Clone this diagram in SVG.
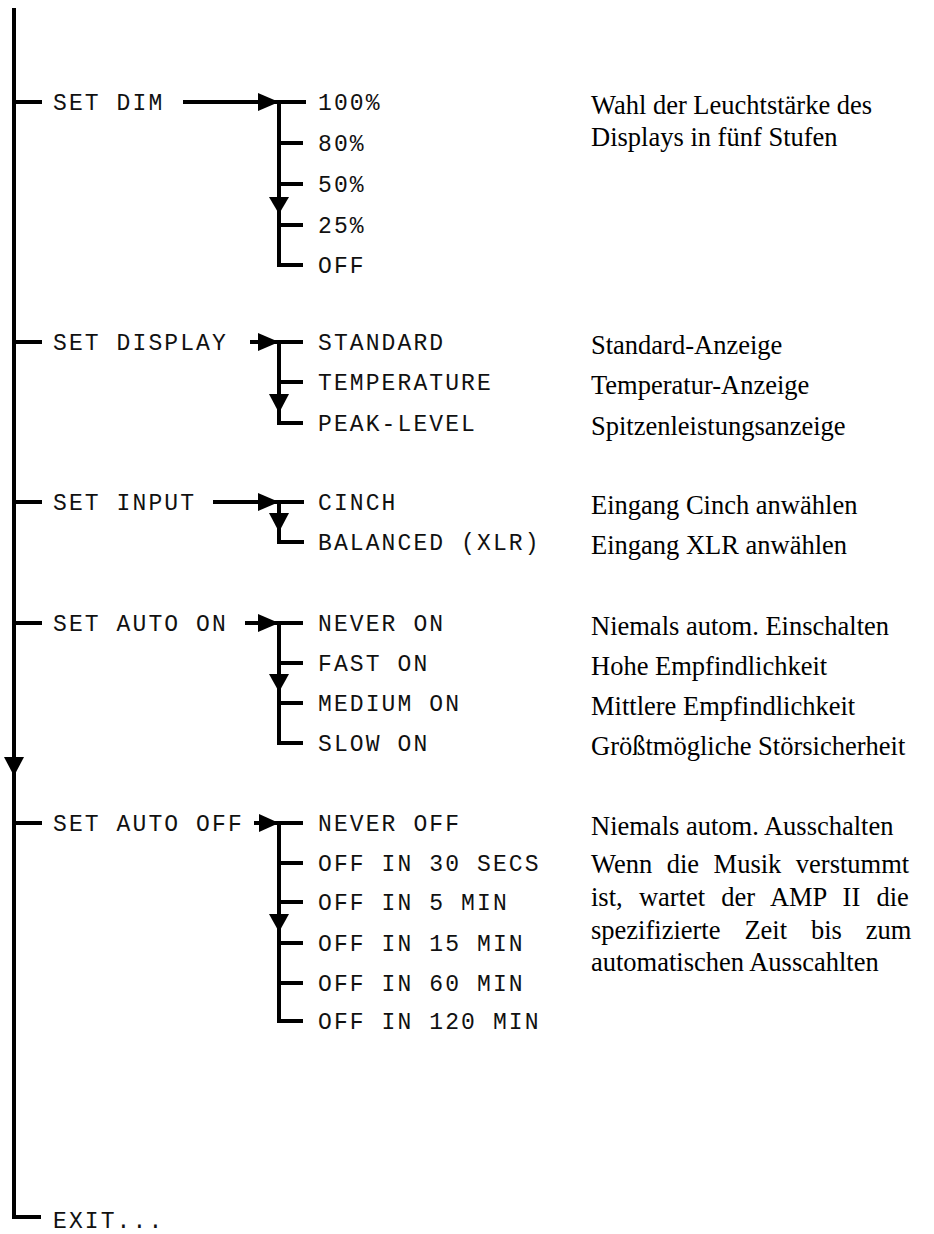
<svg xmlns="http://www.w3.org/2000/svg" width="934" height="1234" viewBox="0 0 934 1234">
<style>
.ln{fill:none;stroke:#000;stroke-width:4;stroke-linejoin:miter;stroke-linecap:butt}
.ah{fill:#000;stroke:none}
.m{font-family:"Liberation Mono","Courier New",monospace;font-size:23px;letter-spacing:2.1px;fill:#111}
.s{font-family:"Liberation Serif","Times New Roman",serif;font-size:26.5px;fill:#000}
</style>
<rect width="934" height="1234" fill="#fff"/>
<g id="connectors">
  <path class="ln" d="M14 8 V1217 H41"/>
  <polygon class="ah" points="4,757 24,757 14,776"/>
  <path class="ln" d="M14 102 H42 M14 342 H42 M14 502 H42 M14 623 H42 M14 823 H42"/>
  <path class="ln" d="M183 102 H306"/>
  <polygon class="ah" points="258,93 279,102 258,111"/>
  <path class="ln" d="M279 102 V265 H303 M279 143 H303 M279 184 H303 M279 225 H303"/>
  <polygon class="ah" points="269,197 289,197 279,214"/>
  <path class="ln" d="M250 342 H303"/>
  <polygon class="ah" points="258,333 279,342 258,351"/>
  <path class="ln" d="M279 342 V423 H303 M279 382 H303"/>
  <polygon class="ah" points="269,394 289,394 279,413"/>
  <path class="ln" d="M213 502 H304"/>
  <polygon class="ah" points="258,493 279,502 258,511"/>
  <path class="ln" d="M279 502 V542 H304"/>
  <polygon class="ah" points="269,513 289,513 279,532"/>
  <path class="ln" d="M245 623 H303"/>
  <polygon class="ah" points="258,614 279,623 258,632"/>
  <path class="ln" d="M279 623 V743 H303 M279 663 H303 M279 703 H303"/>
  <polygon class="ah" points="269,674 289,674 279,692"/>
  <path class="ln" d="M254 823 H303"/>
  <polygon class="ah" points="259,814 279,823 259,832"/>
  <path class="ln" d="M279 823 V1021 H303 M279 863 H303 M279 902 H303 M279 943 H303 M279 983 H303"/>
  <polygon class="ah" points="269,914 289,914 279,932"/>
</g>
<g id="set-dim">
  <text class="m" x="53" y="110">SET DIM</text>
  <text class="m" x="318" y="110">100%</text>
  <text class="m" x="318" y="151">80%</text>
  <text class="m" x="318" y="192">50%</text>
  <text class="m" x="318" y="233">25%</text>
  <text class="m" x="318" y="273">OFF</text>
  <text class="s" x="591" y="113.5">Wahl der Leuchtstärke des</text>
  <text class="s" x="591" y="146">Displays in fünf Stufen</text>
</g>
<g id="set-display">
  <text class="m" x="53" y="350">SET DISPLAY</text>
  <text class="m" x="318" y="350">STANDARD</text>
  <text class="m" x="318" y="390">TEMPERATURE</text>
  <text class="m" x="318" y="431">PEAK-LEVEL</text>
  <text class="s" x="591" y="353.5">Standard-Anzeige</text>
  <text class="s" x="591" y="393.5">Temperatur-Anzeige</text>
  <text class="s" x="591" y="434.5">Spitzenleistungsanzeige</text>
</g>
<g id="set-input">
  <text class="m" x="53" y="510">SET INPUT</text>
  <text class="m" x="318" y="510">CINCH</text>
  <text class="m" x="318" y="550">BALANCED (XLR)</text>
  <text class="s" x="591" y="513.5">Eingang Cinch anwählen</text>
  <text class="s" x="591" y="553.5">Eingang XLR anwählen</text>
</g>
<g id="set-auto-on">
  <text class="m" x="53" y="631">SET AUTO ON</text>
  <text class="m" x="318" y="631">NEVER ON</text>
  <text class="m" x="318" y="671">FAST ON</text>
  <text class="m" x="318" y="711">MEDIUM ON</text>
  <text class="m" x="318" y="751">SLOW ON</text>
  <text class="s" x="591" y="634.5">Niemals autom. Einschalten</text>
  <text class="s" x="591" y="674.5">Hohe Empfindlichkeit</text>
  <text class="s" x="591" y="714.5">Mittlere Empfindlichkeit</text>
  <text class="s" x="591" y="754.5">Größtmögliche Störsicherheit</text>
</g>
<g id="set-auto-off">
  <text class="m" x="53" y="831">SET AUTO OFF</text>
  <text class="m" x="318" y="831">NEVER OFF</text>
  <text class="m" x="318" y="871">OFF IN 30 SECS</text>
  <text class="m" x="318" y="910">OFF IN 5 MIN</text>
  <text class="m" x="318" y="951">OFF IN 15 MIN</text>
  <text class="m" x="318" y="991">OFF IN 60 MIN</text>
  <text class="m" x="318" y="1029">OFF IN 120 MIN</text>
  <text class="s" x="591" y="834.5">Niemals autom. Ausschalten</text>
  <text class="s" x="591" y="873" word-spacing="7.9">Wenn die Musik verstummt</text>
  <text class="s" x="591" y="906" word-spacing="9.6">ist, wartet der AMP II die</text>
  <text class="s" x="591" y="938.5" word-spacing="17.3">spezifizierte Zeit bis zum</text>
  <text class="s" x="591" y="971">automatischen Ausscahlten</text>
</g>
<g id="exit">
  <text class="m" x="53" y="1228">EXIT...</text>
</g>
</svg>
